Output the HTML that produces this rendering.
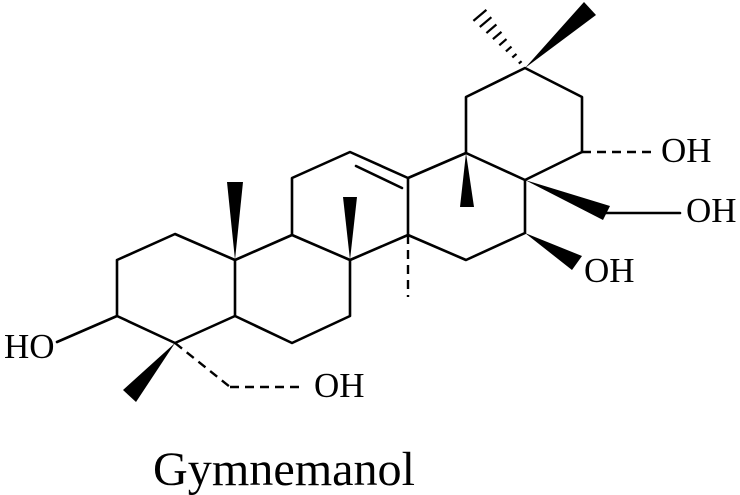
<!DOCTYPE html>
<html><head><meta charset="utf-8"><style>html,body{margin:0;padding:0;background:#fff}svg{display:block}</style></head>
<body>
<svg width="740" height="495" viewBox="0 0 740 495" xmlns="http://www.w3.org/2000/svg">
<g stroke="#000" stroke-width="2.6" fill="none" stroke-linecap="round" stroke-linejoin="round">
<polyline points="117,260 175,234 235,260 235,316 175,343 117,316 117,260"/>
<line x1="117" y1="316" x2="57" y2="342"/>
<polyline points="235,260 292,235 350,260 350,316 292,343 235,316"/>
<polyline points="292,235 292,178 350,152 408,178 408,235 350,260"/>
<line x1="356" y1="166" x2="402" y2="188"/>
<polyline points="408,178 466,153 525,180 525,233 466,260 408,235"/>
<polyline points="466,153 466,97 525,68 582,97 582,152 525,180"/>
<line x1="605" y1="213" x2="680" y2="213"/>
</g>
<g stroke="#000" stroke-width="2.4" stroke-dasharray="9,6" fill="none">
<line x1="175" y1="343" x2="230" y2="387"/>
<line x1="230" y1="387" x2="303" y2="387"/>
<line x1="408" y1="235" x2="408" y2="297"/>
<line x1="582" y1="152" x2="653" y2="152"/>
</g>
<g stroke="#000" stroke-width="2.2">
<line x1="518.8" y1="63.6" x2="521.6" y2="61.2"/>
<line x1="512.3" y1="57.5" x2="516.5" y2="53.9"/>
<line x1="505.9" y1="51.4" x2="511.5" y2="46.6"/>
<line x1="499.3" y1="45.3" x2="506.5" y2="39.1"/>
<line x1="492.9" y1="39.1" x2="501.5" y2="31.9"/>
<line x1="486.4" y1="33.1" x2="496.4" y2="24.5"/>
<line x1="479.8" y1="27" x2="491.4" y2="17.2"/>
<line x1="473.4" y1="20.9" x2="486.4" y2="9.9"/>
</g>
<g fill="#000">
<polygon points="235,260 227,182 243,182"/>
<polygon points="350,260 343,197 357,197"/>
<polygon points="466,153 460,207 474,207"/>
<polygon points="175,343 123,390 136,402"/>
<polygon points="525,68 584,2 596,15"/>
<polygon points="525,180 603,220 610,206"/>
<polygon points="525,233 572,270 582,256"/>
</g>
<g font-family="Liberation Serif, serif" font-size="35" fill="#000">
<text x="4" y="358">HO</text>
<text x="314" y="397">OH</text>
<text x="661" y="162">OH</text>
<text x="686" y="222">OH</text>
<text x="584" y="282">OH</text>
</g>
<text x="153" y="485" font-family="Liberation Serif, serif" font-size="48" textLength="262" lengthAdjust="spacingAndGlyphs">Gymnemanol</text>
</svg>
</body></html>
